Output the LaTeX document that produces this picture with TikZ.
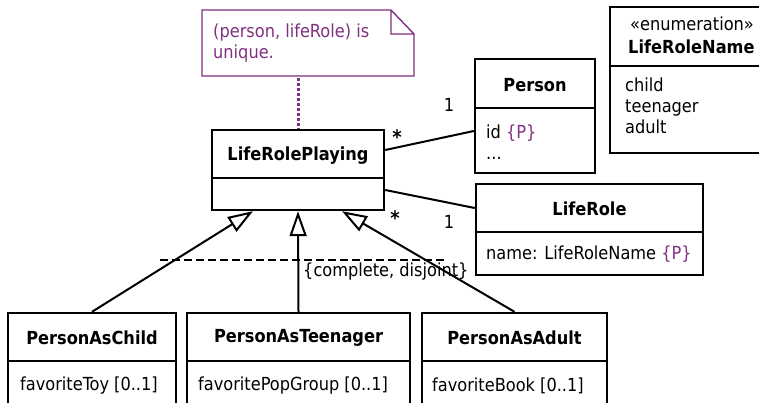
\documentclass[tikz,border=0pt]{standalone}
\usepackage{fontspec}
\setmainfont{DejaVu Sans Condensed}
\usetikzlibrary{arrows.meta,calc}
\definecolor{notepurple}{RGB}{128,48,128}
\begin{document}
\begin{tikzpicture}[x=1pt,y=-1pt,
  every node/.style={font=\fontsize{18}{21}\selectfont, inner sep=0pt},
  clsbox/.style={draw, line width=2.4pt, minimum width=#1, inner sep=0pt},
  hdr/.style={font=\fontsize{18}{21}\selectfont\bfseries},
  attr/.style={anchor=west, align=left},
  assoc/.style={line width=2pt},
  gen/.style={line width=2pt, -{Triangle[open, length=25pt, width=17pt]}},
  many/.style={font=\fontsize{20}{21}\selectfont\bfseries},
  one/.style={font=\fontsize{18}{21}\selectfont}
]
\useasboundingbox (0,0) rectangle (759,402);
\clip (0,0) rectangle (759,402);

% constraint note with folded corner
\draw[notepurple, line width=1.4pt]
  (202,10) -- (391,10) -- (414,34) -- (414,76) -- (202,76) -- cycle
  (391,10) -- (391,34) -- (414,34);
\node[anchor=west, align=left, text=notepurple] (note) at (213,43)
  {(person, lifeRole) is\\unique.};
\coordinate (noteanchor) at (298,78);

% LifeRolePlaying
\node[clsbox=172pt, minimum height=48pt] (lrpH) at (298,154) {};
\node[hdr] at (298,156) {LifeRolePlaying};
\node[clsbox=172pt, minimum height=32pt] (lrpB) at (298,194) {};

% Person
\node[clsbox=120pt, minimum height=49pt] (perH) at (535,83.5) {};
\node[hdr] at (535,85) {Person};
\node[clsbox=120pt, minimum height=65pt] (perB) at (535,140.5) {};
\node[attr] at (486,142) {id {\color{notepurple}\{P\}}\\...};

% LifeRole
\node[clsbox=227pt, minimum height=48pt] (lrH) at (589.5,208) {};
\node[hdr] at (589.5,209) {LifeRole};
\node[clsbox=227pt, minimum height=43pt] (lrB) at (589.5,253.5) {};
\node[attr] at (486,254) {name: LifeRoleName {\color{notepurple}\{P\}}};

% LifeRoleName enumeration
\node[clsbox=165pt, minimum height=59pt] (enH) at (692.5,36.5) {};
\node[anchor=north] at (692,17) {«enumeration»};
\node[hdr, anchor=west] at (628,47) {LifeRoleName};
\node[clsbox=165pt, minimum height=87pt] (enB) at (692.5,109.5) {};
\node[attr] at (625,106) {child\\teenager\\adult};

% subclasses
\node[clsbox=168pt, minimum height=48pt] (chH) at (92,337) {};
\node[hdr] at (92,338) {PersonAsChild};
\node[clsbox=168pt, minimum height=59pt] (chB) at (92,390.5) {};
\node[attr] at (20,386) {favoriteToy [0..1]};

\node[clsbox=223pt, minimum height=48pt] (teH) at (298.5,337) {};
\node[hdr] at (298.5,338) {PersonAsTeenager};
\node[clsbox=223pt, minimum height=59pt] (teB) at (298.5,390.5) {};
\node[attr] at (198,386) {favoritePopGroup [0..1]};

\node[clsbox=185pt, minimum height=48pt] (adH) at (514.5,337) {};
\node[hdr] at (514.5,338) {PersonAsAdult};
\node[clsbox=185pt, minimum height=59pt] (adB) at (514.5,390.5) {};
\node[attr] at (432,386) {favoriteBook [0..1]};

% note attachment
\draw[notepurple, line width=3pt, dash pattern=on 3pt off 2pt]
  (noteanchor) -- (lrpH.north);

% associations with multiplicities
\draw[assoc] ([yshift=4pt]lrpH.east) -- ([yshift=9.5pt]perB.west);
\draw[assoc] ([yshift=4pt]lrpB.east) -- (lrH.west);
\node[many] (m1) at (397,137) {*};
\node[one] (m2) at (449,105) {1};
\node[many] (m3) at (395,218) {*};
\node[one] (m4) at (449,222) {1};

% generalization set
\draw[gen] (chH.north) -- ([xshift=-45pt]lrpB.south);
\draw[gen] (teH.north) -- (lrpB.south);
\draw[gen] (adH.north) -- ([xshift=44pt]lrpB.south);
\coordinate (gsL) at (160,260);
\coordinate (gsR) at (445,260);
\draw[line width=2.4pt, dash pattern=on 8pt off 4pt] (gsL) -- (gsR);
\node[anchor=west] (gsText) at (303,272) {\{complete, disjoint\}};
\end{tikzpicture}
\end{document}
